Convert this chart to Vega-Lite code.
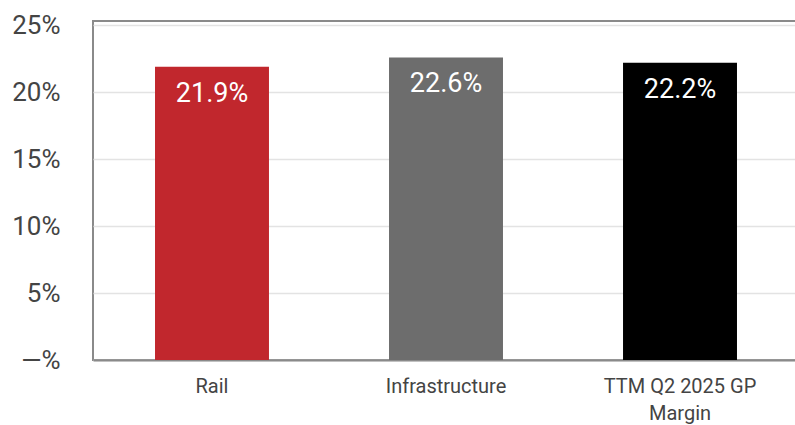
{
  "$schema": "https://vega.github.io/schema/vega-lite/v6.json",
  "width": 706,
  "height": 339,
  "autosize": {"type": "none"},
  "padding": {"left": 93, "top": 21, "right": -4, "bottom": 65},
  "background": "white",
  "config": {
    "font": "Roboto",
    "view": {"stroke": "#8a8a8a", "strokeWidth": 2}
  },
  "data": {
    "values": [
      {"segment": "Rail", "margin": 0.219, "label": "21.9%", "color": "#C1272D"},
      {"segment": "Infrastructure", "margin": 0.226, "label": "22.6%", "color": "#6D6D6D"},
      {"segment": "TTM Q2 2025 GP Margin", "margin": 0.222, "label": "22.2%", "color": "#000000"}
    ]
  },
  "encoding": {
    "x": {
      "field": "segment",
      "type": "nominal",
      "sort": null,
      "scale": {"paddingInner": 0.513, "paddingOuter": 0.265},
      "axis": {
        "title": null,
        "labelAngle": 0,
        "labelFontSize": 20,
        "labelColor": "#444444",
        "labelPadding": 16,
        "labelLineHeight": 27,
        "labelExpr": "datum.label == 'TTM Q2 2025 GP Margin' ? ['TTM Q2 2025 GP', 'Margin'] : datum.label",
        "ticks": false,
        "domainColor": "#8a8a8a",
        "domainWidth": 2
      }
    },
    "y": {
      "field": "margin",
      "type": "quantitative",
      "scale": {"domain": [0, 0.2532], "nice": false},
      "axis": {
        "title": null,
        "values": [0, 0.05, 0.1, 0.15, 0.2, 0.25],
        "labelExpr": "datum.value == 0 ? '—%' : format(datum.value, '.0%')",
        "labelFontSize": 26,
        "labelColor": "#444444",
        "labelPadding": 33,
        "ticks": false,
        "domain": false,
        "gridColor": "#e3e3e3",
        "gridWidth": 1.5
      }
    }
  },
  "layer": [
    {
      "mark": {"type": "bar"},
      "encoding": {
        "color": {"field": "color", "type": "nominal", "scale": null}
      }
    },
    {
      "mark": {"type": "text", "color": "white", "fontSize": 27, "baseline": "alphabetic", "dy": 35},
      "encoding": {
        "text": {"field": "label"}
      }
    }
  ]
}
